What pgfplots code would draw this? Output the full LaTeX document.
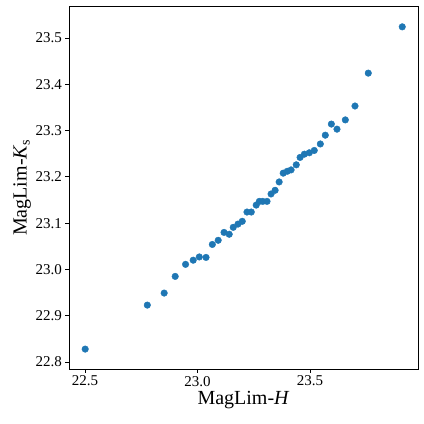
\documentclass[border=0pt]{standalone}
\usepackage{pgfplots}
\pgfplotsset{compat=1.18}
\usepackage{fontspec}
\setmainfont{Liberation Serif}
\definecolor{mplblue}{HTML}{1F77B4}

\begin{document}
\begin{tikzpicture}
\path[use as bounding box] (-69pt,-55pt) rectangle (355pt,369pt);
\begin{axis}[
  scale only axis, width=349pt, height=363pt,
  xmin=22.429, xmax=23.98, ymin=22.785, ymax=23.569,
  xtick={22.5,23.0,23.5}, ytick={22.8,22.9,23.0,23.1,23.2,23.3,23.4,23.5},
  xticklabel style={/pgf/number format/.cd, fixed, fixed zerofill, precision=1},
  yticklabel style={/pgf/number format/.cd, fixed, fixed zerofill, precision=1},
  /pgf/number format/assume math mode=true,
  tick align=outside, tick pos=left, major tick length=3.5pt,
  tick style={black, line width=0.8pt},
  axis line style={line width=0.8pt},
  ticklabel style={font=\fontsize{15}{15}\selectfont},
  label style={font=\fontsize{20}{20}\selectfont},
  xlabel={MagLim-\textit{H}},
  ylabel={MagLim-\textit{K}\textsubscript{s}},
  xlabel style={yshift=2pt},
  ylabel style={yshift=-2pt},
]
\addplot[only marks, mark=*, mark size=3.3pt, mark options={draw=mplblue, fill=mplblue}] coordinates {
(23.910,23.524) (23.759,23.424) (23.700,23.353) (23.657,23.323) (23.620,23.303)
(23.595,23.314) (23.568,23.290) (23.546,23.271) (23.519,23.257) (23.497,23.252)
(23.475,23.249) (23.456,23.242) (23.439,23.226) (23.416,23.215) (23.399,23.212)
(23.381,23.208) (23.363,23.189) (23.345,23.171) (23.327,23.163) (23.309,23.147)
(23.290,23.147) (23.275,23.147) (23.261,23.139) (23.239,23.124) (23.220,23.124)
(23.199,23.104) (23.180,23.098) (23.159,23.091) (23.141,23.076) (23.118,23.080)
(23.092,23.063) (23.066,23.054) (23.038,23.026) (23.008,23.027) (22.981,23.020)
(22.947,23.011) (22.901,22.985) (22.852,22.949) (22.777,22.923) (22.501,22.828)
};
\end{axis}
\end{tikzpicture}
\end{document}
